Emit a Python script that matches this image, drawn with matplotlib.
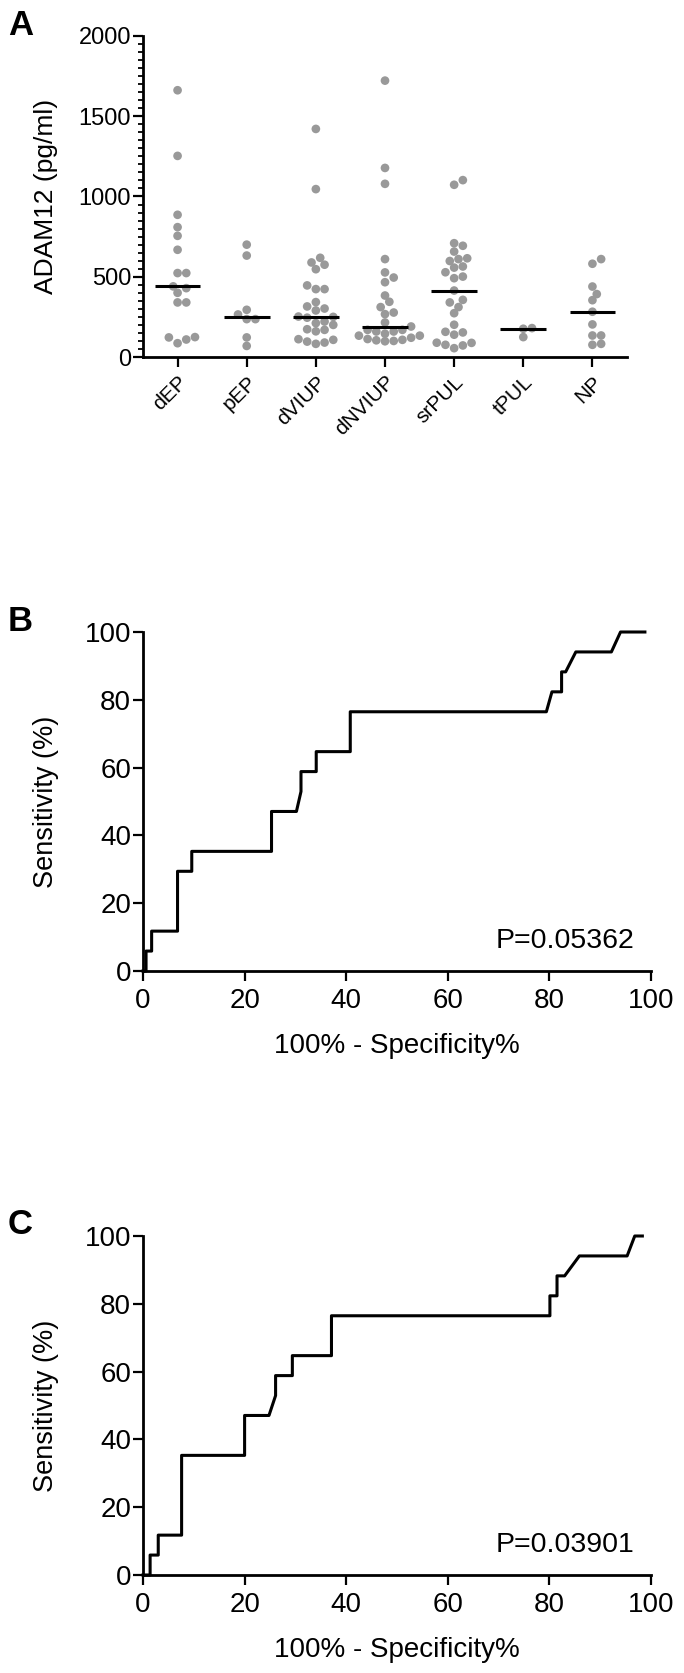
import numpy as np
import matplotlib
matplotlib.use("Agg")
import matplotlib.pyplot as plt
from matplotlib.ticker import MultipleLocator

plt.rcParams['font.family'] = ['Liberation Sans', 'DejaVu Sans']

# panel A: ADAM12 per group (pg/ml)
groups = ['dEP', 'pEP', 'dVIUP', 'dNVIUP', 'srPUL', 'tPUL', 'NP']
dEP = [1662, 1253, 886, 809, 755, 668, 523, 523, 440, 429, 400, 340, 340, 124, 86, 109, 122]
pEP = [700, 632, 294, 265, 236, 236, 122, 69]
dVIUP = [1421, 1046, 618, 589, 575, 547, 446, 423, 423, 342, 315, 302, 290, 252, 250, 245,
         221, 211, 200, 173, 169, 160, 111, 107, 96, 90, 82]
dNVIUP = [1722, 1178, 1079, 610, 527, 495, 466, 383, 344, 311, 277, 267, 215, 190, 169, 169,
          159, 159, 145, 133, 133, 120, 112, 107, 104, 100, 98]
srPUL = [1102, 1073, 709, 693, 657, 615, 610, 598, 564, 557, 528, 501, 491, 414, 356, 340,
         311, 273, 201, 157, 153, 139, 89, 88, 76, 72, 55]
tPUL = [180, 176, 124]
NP = [610, 581, 439, 392, 354, 282, 203, 134, 134, 82, 76]
values = [dEP, pEP, dVIUP, dNVIUP, srPUL, tPUL, NP]

# panel B / C: ROC curves (100% - specificity, sensitivity)
roc_b_x = [0, 0.6, 0.6, 1.7, 1.7, 6.8, 6.8, 9.6, 9.6, 25.3, 25.3, 30.2, 31.1, 31.1, 34.1, 34.1,
           40.8, 40.8, 79.4, 80.5, 82.4, 82.4, 83.2, 85.2, 92.2, 94.0, 98.8]
roc_b_y = [0, 0, 5.88, 5.88, 11.76, 11.76, 29.41, 29.41, 35.29, 35.29, 47.06, 47.06, 52.94, 58.82,
           58.82, 64.71, 64.71, 76.47, 76.47, 82.35, 82.35, 88.24, 88.24, 94.12, 94.12, 100, 100]
roc_c_x = [0, 1.4, 1.4, 3.0, 3.0, 7.6, 7.6, 20.0, 20.0, 24.8, 26.1, 26.1, 29.4, 29.4, 37.1, 37.1,
           80.1, 80.1, 81.5, 81.5, 83.0, 85.9, 95.3, 96.8, 98.3]
roc_c_y = [0, 0, 5.88, 5.88, 11.76, 11.76, 35.29, 35.29, 47.06, 47.06, 52.94, 58.82, 58.82, 64.71,
           64.71, 76.47, 76.47, 82.35, 82.35, 88.24, 88.24, 94.12, 94.12, 100, 100]
p_b = 'P=0.05362'
p_c = 'P=0.03901'

W, H = 684, 1673
fig = plt.figure(figsize=(W / 100, H / 100), dpi=100)


def box(left, right, top, bottom):
    return [left / W, 1 - bottom / H, (right - left) / W, (bottom - top) / H]


def style(ax):
    for s in ['top', 'right']:
        ax.spines[s].set_visible(False)
    for s in ['left', 'bottom']:
        ax.spines[s].set_linewidth(2.0)
    ax.tick_params(which='major', direction='out', length=7, width=1.6)
    ax.tick_params(which='minor', direction='out', length=3.5, width=1.3)
    ax.tick_params(axis='y', pad=1.5)


def swarm(vals, px_per_val, px_per_cat, diam, overlap=0.85):
    # simple beeswarm in pixel space, dots may overlap a little like the original
    vals = np.asarray(vals, float)
    order = np.argsort(vals)
    placed = []
    offs = np.zeros(len(vals))
    cands = [0.0]
    for k in range(1, 16):
        cands += [k * diam * 0.5, -k * diam * 0.5]
    lim = (diam * overlap) ** 2
    for i in order:
        y = vals[i] * px_per_val
        for c in cands:
            if all((c - px) ** 2 + (y - py) ** 2 >= lim for px, py in placed):
                placed.append((c, y))
                offs[i] = c / px_per_cat
                break
    return offs


# ---- panel A
axA = fig.add_axes(box(143, 627, 36, 357))
style(axA)
px_per_val = 321.0 / 2000
px_per_cat = (627 - 143) / 7.0
for i, v in enumerate(values):
    off = swarm(v, px_per_val, px_per_cat, 8.7)
    axA.scatter(i + off, v, s=39, color='#999999', edgecolors='none', zorder=2, clip_on=False)
    axA.hlines(np.median(v), i - 0.33, i + 0.33, color='black', lw=2.2, zorder=3)
axA.set_xlim(-0.5, 6.5)
axA.set_ylim(0, 2000)
axA.yaxis.set_major_locator(MultipleLocator(500))
axA.yaxis.set_minor_locator(MultipleLocator(50))
axA.set_xticks(range(len(groups)))
axA.set_xticklabels(groups, rotation=45, ha='right', rotation_mode='anchor', fontsize=15)
axA.tick_params(axis='x', pad=4)
axA.tick_params(axis='y', labelsize=17)
axA.set_ylabel('ADAM12 (pg/ml)', fontsize=19)
axA.yaxis.label.set_va('center')
axA.yaxis.set_label_coords((46 - 143) / 484, 0.5)

# ---- panels B and C
for top, bottom, rx, ry, ptxt in [(632, 971, roc_b_x, roc_b_y, p_b), (1236, 1575, roc_c_x, roc_c_y, p_c)]:
    ax = fig.add_axes(box(143, 651, top, bottom))
    style(ax)
    ax.plot(rx, ry, color='black', lw=2.2, clip_on=False, zorder=3)
    ax.set_xlim(0, 100)
    ax.set_ylim(0, 100)
    ax.xaxis.set_major_locator(MultipleLocator(20))
    ax.yaxis.set_major_locator(MultipleLocator(20))
    ax.tick_params(labelsize=20)
    ax.tick_params(axis='x', pad=5)
    ax.set_xlabel('100% - Specificity%', fontsize=20)
    ax.xaxis.label.set_va('center')
    ax.xaxis.set_label_coords(0.5, -75 / 339)
    ax.set_ylabel('Sensitivity (%)', fontsize=19.5)
    ax.yaxis.label.set_va('center')
    ax.yaxis.set_label_coords((46 - 143) / 508, 0.5)
    ax.text(96.8, 6.8, ptxt, fontsize=20.5, ha='right', va='baseline')

for lbl, y in [('A', 35), ('B', 631), ('C', 1234)]:
    fig.text(8 / W, 1 - y / H, lbl, fontsize=25, fontweight='bold', va='baseline', ha='left')

fig.savefig('out.png', dpi=100)
